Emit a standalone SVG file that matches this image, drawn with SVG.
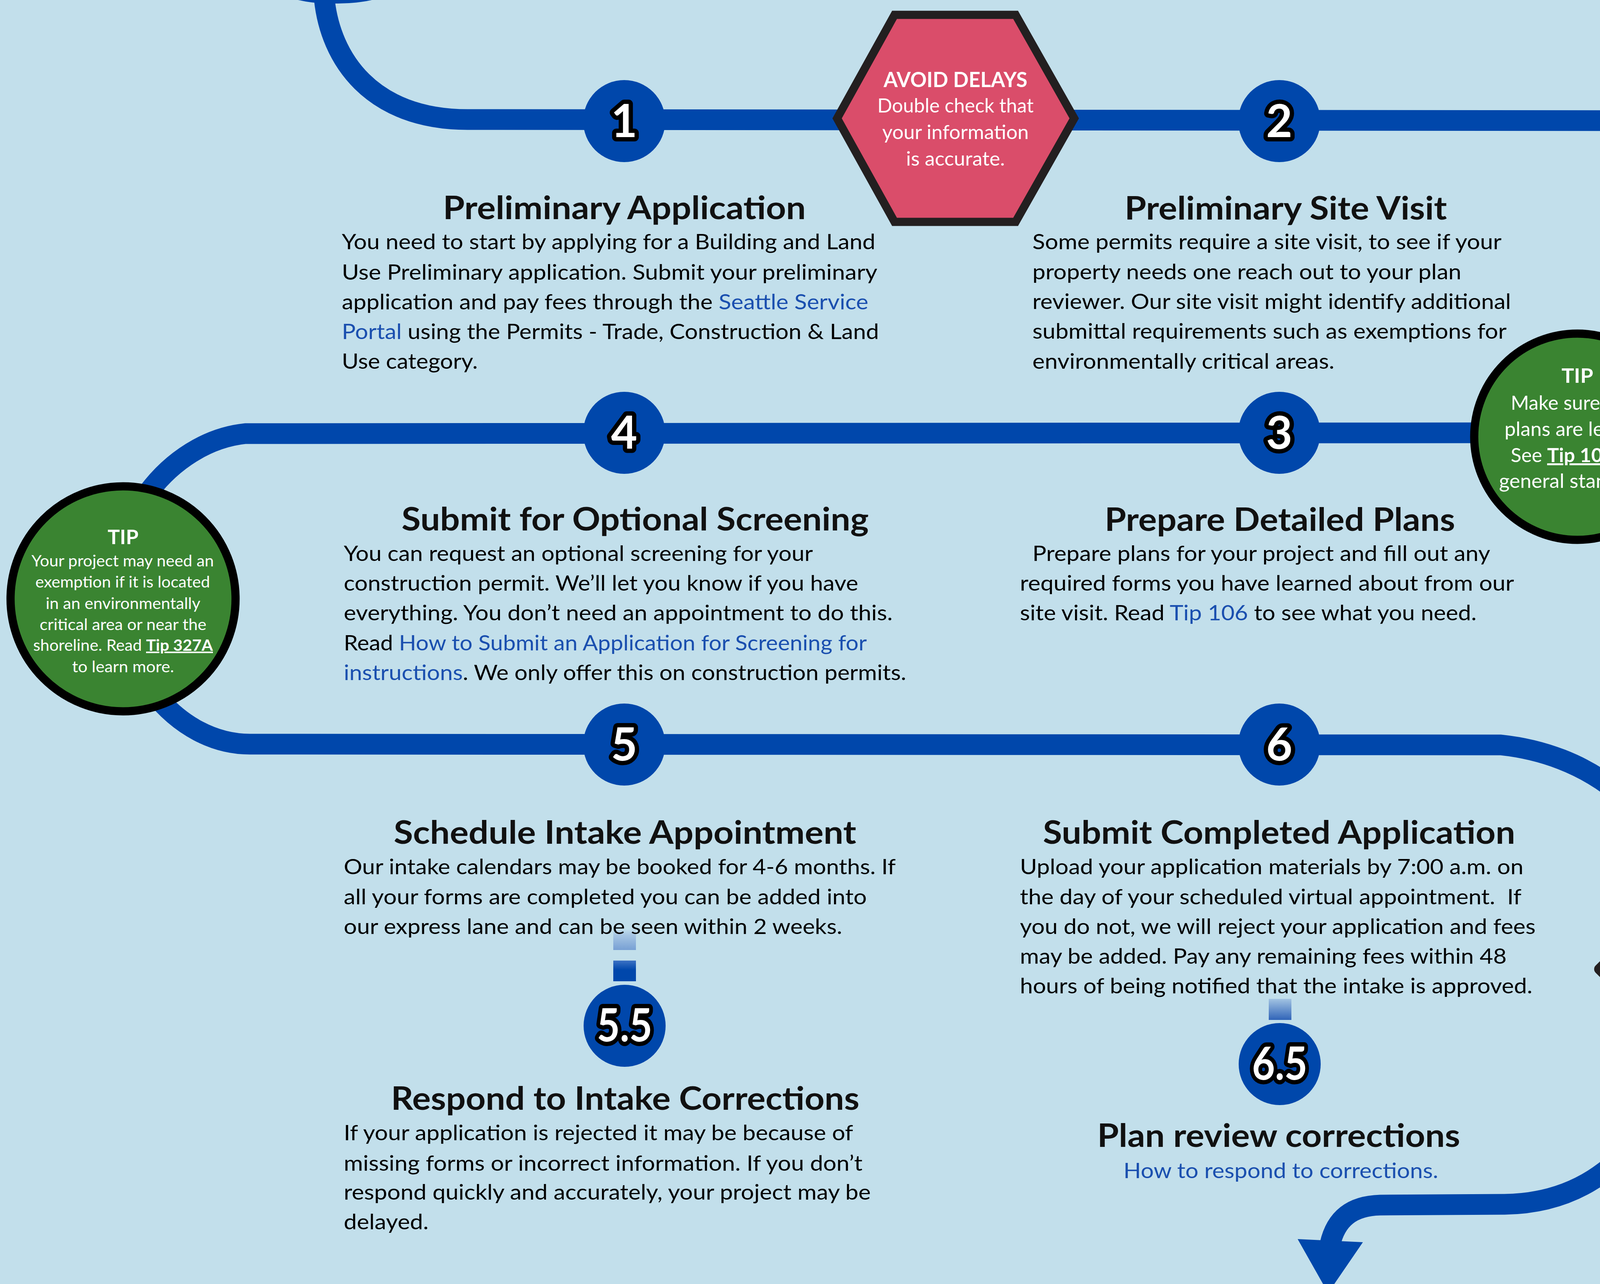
<svg xmlns="http://www.w3.org/2000/svg" width="4888" height="3287" viewBox="0 0 4888 3287">
<defs>
<style>
.route{fill:none;stroke:#0047AB;stroke-width:53;stroke-linejoin:round}
.nodec{fill:#0047AB}
.num{font-family:Lato,'Liberation Sans',sans-serif;font-weight:700;font-size:116px;fill:#fff;stroke:#000;stroke-width:22;stroke-linejoin:round;paint-order:stroke;text-anchor:middle}
.title{font-family:Lato,'Liberation Sans',sans-serif;font-weight:700;font-size:82px;fill:#111}
.body{font-family:Lato,'Liberation Sans',sans-serif;font-size:55px;fill:#000}
.link{fill:#1A4FAF}
.w{font-family:Lato,'Liberation Sans',sans-serif;fill:#fff;text-anchor:middle}
.d{font-family:Lato,'Liberation Sans',sans-serif;fill:#111;text-anchor:middle}
.b{font-weight:700}
.u{text-decoration:underline}
</style>
<linearGradient id="gA" x1="0" y1="0" x2="0" y2="1">
<stop offset="0" stop-color="#C2DFEB"/><stop offset="0.3" stop-color="#A6C5E3"/><stop offset="1" stop-color="#77A0D4"/>
</linearGradient>
<linearGradient id="gB" x1="0" y1="0" x2="0" y2="1">
<stop offset="0" stop-color="#3C72C4"/><stop offset="0.45" stop-color="#0047AB"/><stop offset="1" stop-color="#0047AB"/>
</linearGradient>
<linearGradient id="gC" x1="0" y1="0" x2="0" y2="1">
<stop offset="0" stop-color="#A2C3E2"/><stop offset="1" stop-color="#3064B8"/>
</linearGradient>
</defs>
<rect width="4888" height="3287" fill="#C2DFEB"/>

<g id="connectors">
<path d="M 763 0 C 790 6 815 9 857 9 C 900 9 930 5 952 0 Z" fill="#0047AB"/>
<path class="route" d="M 830 -5 C 845 150 950 306 1197 306 L 4253 309 C 4420 322 4570 470 4595 710 C 4595 930 4470 1050 4240 1100 L 3765 1108 L 628 1110 C 530 1120 440 1180 380 1260"/>
<path class="route" d="M 390 1770 C 460 1860 550 1905 640 1905 L 3842 1907 C 4060 1930 4240 2060 4310 2280"/>
<path class="route" d="M 4300 2700 C 4230 2930 4080 3080 3852 3083 L 3533 3085 C 3460 3087 3420 3120 3405 3185"/>
<polygon points="3322,3172 3489,3180 3400,3310" fill="#0047AB"/>
<rect x="1570" y="2378" width="58" height="54" fill="url(#gA)"/>
<rect x="1570" y="2459" width="58" height="53" fill="url(#gB)"/>
<rect x="3248" y="2557" width="58" height="54" fill="url(#gC)"/>
</g>

<g id="avoid-delays">
<polygon points="2290,38 2600,38 2750,303 2600,568 2290,568 2143,303" fill="#DA4D6A" stroke="#231F20" stroke-width="21" stroke-linejoin="miter"/>
<text class="w b" x="2446" y="223" font-size="54" textLength="368" lengthAdjust="spacingAndGlyphs">AVOID DELAYS</text>
<text class="w" x="2446" y="288" font-size="50" textLength="400" lengthAdjust="spacingAndGlyphs">Double check that</text>
<text class="w" x="2446" y="356" font-size="50" textLength="375" lengthAdjust="spacingAndGlyphs">your information</text>
<text class="w" x="2446" y="424" font-size="50" textLength="253" lengthAdjust="spacingAndGlyphs">is accurate.</text>
</g>

<g id="step-1">
<circle class="nodec" cx="1598" cy="310" r="105"/>
<text class="num" x="1598" y="351">1</text>
<text class="title" x="1134" y="561" textLength="929" lengthAdjust="spacingAndGlyphs">Preliminary Application</text>
<text class="body" x="875" y="638" textLength="1366" lengthAdjust="spacingAndGlyphs">You need to start by applying for a Building and Land</text>
<text class="body" x="875" y="716" textLength="1371" lengthAdjust="spacingAndGlyphs">Use Preliminary application. Submit your preliminary</text>
<text class="body" x="875" y="792" textLength="1348" lengthAdjust="spacingAndGlyphs">application and pay fees through the <tspan class="link">Seattle Service</tspan></text>
<text class="body" x="875" y="868" textLength="1375" lengthAdjust="spacingAndGlyphs"><tspan class="link">Portal</tspan> using the Permits - Trade, Construction &amp; Land</text>
<text class="body" x="875" y="944" textLength="348" lengthAdjust="spacingAndGlyphs">Use category.</text>
</g>

<g id="step-2">
<circle class="nodec" cx="3275" cy="310" r="105"/>
<text class="num" x="3275" y="351">2</text>
<text class="title" x="2879" y="562" textLength="825" lengthAdjust="spacingAndGlyphs">Preliminary Site Visit</text>
<text class="body" x="2643" y="638" textLength="1201" lengthAdjust="spacingAndGlyphs">Some permits require a site visit, to see if your</text>
<text class="body" x="2643" y="715" textLength="1098" lengthAdjust="spacingAndGlyphs">property needs one reach out to your plan</text>
<text class="body" x="2643" y="791" textLength="1225" lengthAdjust="spacingAndGlyphs">reviewer. Our site visit might identify additional</text>
<text class="body" x="2643" y="867" textLength="1214" lengthAdjust="spacingAndGlyphs">submittal requirements such as exemptions for</text>
<text class="body" x="2643" y="944" textLength="773" lengthAdjust="spacingAndGlyphs">environmentally critical areas.</text>
</g>

<g id="tip-plans">
<circle cx="4038" cy="1118" r="264" fill="#3A8431" stroke="#000" stroke-width="21"/>
<text class="w b" x="4038" y="980" font-size="52" textLength="81" lengthAdjust="spacingAndGlyphs">TIP</text>
<text class="w" x="4038" y="1049" font-size="50" textLength="341" lengthAdjust="spacingAndGlyphs">Make sure your</text>
<text class="w" x="4038" y="1116" font-size="50" textLength="373" lengthAdjust="spacingAndGlyphs">plans are legible.</text>
<text class="w" x="4038" y="1183" font-size="50" textLength="341" lengthAdjust="spacingAndGlyphs">See <tspan class="b u">Tip 106</tspan> for</text>
<text class="w" x="4038" y="1249" font-size="50" textLength="401" lengthAdjust="spacingAndGlyphs">general standards</text>
</g>

<g id="step-3">
<circle class="nodec" cx="3275" cy="1108" r="105"/>
<text class="num" x="3275" y="1149">3</text>
<text class="title" x="2828" y="1359" textLength="897" lengthAdjust="spacingAndGlyphs">Prepare Detailed Plans</text>
<text class="body" x="2643" y="1436" textLength="1172" lengthAdjust="spacingAndGlyphs">Prepare plans for your project and fill out any</text>
<text class="body" x="2611" y="1512" textLength="1265" lengthAdjust="spacingAndGlyphs">required forms you have learned about from our</text>
<text class="body" x="2611" y="1588" textLength="1169" lengthAdjust="spacingAndGlyphs">site visit. Read <tspan class="link">Tip 106</tspan> to see what you need.</text>
</g>

<g id="step-4">
<circle class="nodec" cx="1598" cy="1108" r="105"/>
<text class="num" x="1598" y="1149">4</text>
<text class="title" x="1028" y="1358" textLength="1196" lengthAdjust="spacingAndGlyphs">Submit for Optional Screening</text>
<text class="body" x="880" y="1436" textLength="1201" lengthAdjust="spacingAndGlyphs">You can request an optional screening for your</text>
<text class="body" x="880" y="1512" textLength="1317" lengthAdjust="spacingAndGlyphs">construction permit. We’ll let you know if you have</text>
<text class="body" x="880" y="1588" textLength="1405" lengthAdjust="spacingAndGlyphs">everything. You don’t need an appointment to do this.</text>
<text class="body" x="880" y="1665" textLength="1339" lengthAdjust="spacingAndGlyphs">Read <tspan class="link">How to Submit an Application for Screening for</tspan></text>
<text class="body" x="880" y="1741" textLength="1440" lengthAdjust="spacingAndGlyphs"><tspan class="link">instructions</tspan>. We only offer this on construction permits.</text>
</g>

<g id="tip-exemption">
<circle cx="315" cy="1533" r="288" fill="#3A8431" stroke="#000" stroke-width="21"/>
<text class="w b" x="315" y="1393" font-size="52" textLength="79" lengthAdjust="spacingAndGlyphs">TIP</text>
<text class="w" x="314" y="1450" font-size="40" textLength="467" lengthAdjust="spacingAndGlyphs">Your project may need an</text>
<text class="w" x="314" y="1504" font-size="40" textLength="447" lengthAdjust="spacingAndGlyphs">exemption if it is located</text>
<text class="w" x="315" y="1559" font-size="40" textLength="396" lengthAdjust="spacingAndGlyphs">in an environmentally</text>
<text class="w" x="315" y="1613" font-size="40" textLength="427" lengthAdjust="spacingAndGlyphs">critical area or near the</text>
<text class="w" x="315" y="1666" font-size="40" textLength="460" lengthAdjust="spacingAndGlyphs">shoreline. Read <tspan class="b u">Tip 327A</tspan></text>
<text class="w" x="315" y="1721" font-size="40" textLength="261" lengthAdjust="spacingAndGlyphs">to learn more.</text>
</g>

<g id="step-5">
<circle class="nodec" cx="1598" cy="1906" r="105"/>
<text class="num" x="1598" y="1947">5</text>
<text class="title" x="1008" y="2160" textLength="1184" lengthAdjust="spacingAndGlyphs">Schedule Intake Appointment</text>
<text class="body" x="880" y="2238" textLength="1413" lengthAdjust="spacingAndGlyphs">Our intake calendars may be booked for 4-6 months. If</text>
<text class="body" x="880" y="2315" textLength="1339" lengthAdjust="spacingAndGlyphs">all your forms are completed you can be added into</text>
<text class="body" x="880" y="2391" textLength="1276" lengthAdjust="spacingAndGlyphs">our express lane and can be seen within 2 weeks.</text>
</g>

<g id="step-5-5">
<circle class="nodec" cx="1599" cy="2626" r="105"/>
<text class="num" x="1599" y="2666" textLength="142" lengthAdjust="spacingAndGlyphs">5.5</text>
<text class="title" x="1001" y="2841" textLength="1199" lengthAdjust="spacingAndGlyphs">Respond to Intake Corrections</text>
<text class="body" x="880" y="2919" textLength="1304" lengthAdjust="spacingAndGlyphs">If your application is rejected it may be because of</text>
<text class="body" x="880" y="2997" textLength="1328" lengthAdjust="spacingAndGlyphs">missing forms or incorrect information. If you don’t</text>
<text class="body" x="880" y="3071" textLength="1349" lengthAdjust="spacingAndGlyphs">respond quickly and accurately, your project may be</text>
<text class="body" x="880" y="3147" textLength="217" lengthAdjust="spacingAndGlyphs">delayed.</text>
</g>

<g id="step-6">
<circle class="nodec" cx="3275" cy="1906" r="105"/>
<text class="num" x="3275" y="1947">6</text>
<text class="title" x="2670" y="2160" textLength="1209" lengthAdjust="spacingAndGlyphs">Submit Completed Application</text>
<text class="body" x="2611" y="2238" textLength="1289" lengthAdjust="spacingAndGlyphs">Upload your application materials by 7:00 a.m. on</text>
<text class="body" x="2611" y="2315" textLength="1284" lengthAdjust="spacingAndGlyphs">the day of your scheduled virtual appointment.&#160; If</text>
<text class="body" x="2611" y="2391" textLength="1320" lengthAdjust="spacingAndGlyphs">you do not, we will reject your application and fees</text>
<text class="body" x="2611" y="2467" textLength="1246" lengthAdjust="spacingAndGlyphs">may be added. Pay any remaining fees within 48</text>
<text class="body" x="2611" y="2543" textLength="1312" lengthAdjust="spacingAndGlyphs">hours of being notified that the intake is approved.</text>
</g>

<g id="step-6-5">
<circle class="nodec" cx="3276" cy="2724" r="105"/>
<text class="num" x="3276" y="2764" textLength="142" lengthAdjust="spacingAndGlyphs">6.5</text>
<text class="title" x="2809" y="2936" textLength="929" lengthAdjust="spacingAndGlyphs">Plan review corrections</text>
<text class="body link" x="2876" y="3016" textLength="806" lengthAdjust="spacingAndGlyphs">How to respond to corrections.</text>
</g>

<g id="stuck">
<polygon points="4460,2117 4829,2481 4460,2844 4094,2481" fill="#F2BE58" stroke="#231F20" stroke-width="26" stroke-linejoin="round"/>
<text class="d b" x="4459" y="2352" font-size="56" textLength="210" lengthAdjust="spacingAndGlyphs">STUCK?</text>
<text class="d" x="4458" y="2418" font-size="48" textLength="496" lengthAdjust="spacingAndGlyphs">Contact your assigned</text>
<text class="d" x="4458" y="2486" font-size="48" textLength="445" lengthAdjust="spacingAndGlyphs">plan reviewer or the</text>
<text class="d b" x="4458" y="2547" font-size="48" textLength="392" lengthAdjust="spacingAndGlyphs">Virtual Applicant</text>
<text class="d b" x="4458" y="2616" font-size="48" textLength="354" lengthAdjust="spacingAndGlyphs">Services Center</text>
</g>
</svg>
